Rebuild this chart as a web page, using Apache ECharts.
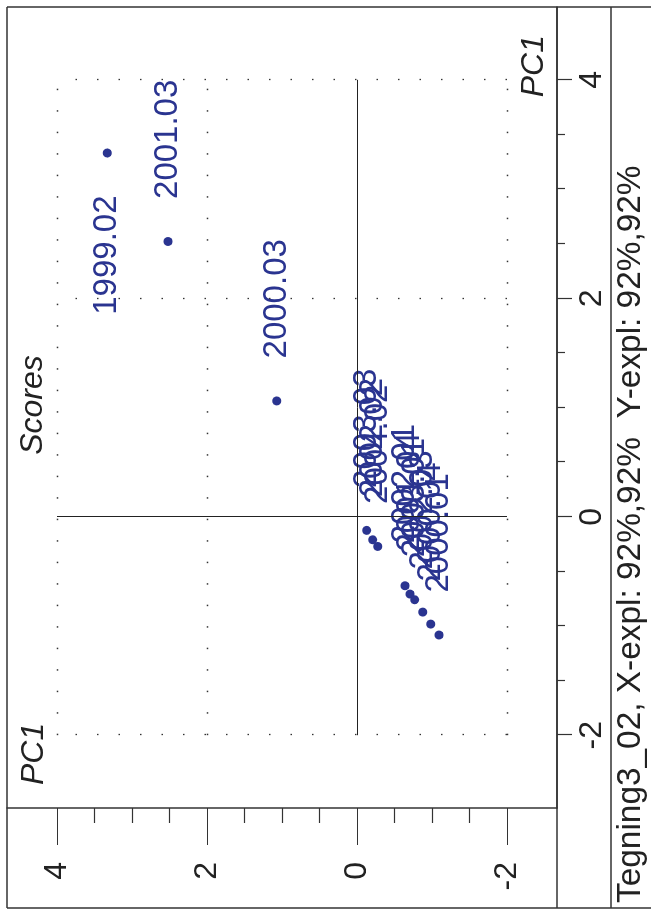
<!DOCTYPE html>
<html>
<head>
<meta charset="utf-8">
<script src="https://cdn.jsdelivr.net/npm/echarts@6/dist/echarts.min.js"></script>
<style>
html,body{margin:0;padding:0;background:#fff;overflow:hidden;width:651px;height:911px;}
#chart{position:absolute;left:0;top:0;width:911px;height:651px;transform-origin:0 0;transform:translate(0,911px) rotate(-90deg);}
</style>
</head>
<body>
<div id="chart"></div>
<script>
// ---- data ----
const pointNames = ['1999.02','2001.03','2000.03','2003.03','2002.02','2004.02','2002.01','2001.04','2003.01','2002.03','2000.04','2000.01'];
const xScores = [3.33, 2.52, 1.06, -0.125, -0.211, -0.272, -0.632, -0.708, -0.760, -0.873, -0.983, -1.083];
const yScores = [3.33, 2.52, 1.07, -0.129, -0.209, -0.276, -0.640, -0.707, -0.769, -0.876, -0.983, -1.093];
const majorTicks = [-2, 0, 2, 4];
const minorTicks = [-1.5, -1, -0.5, 0.5, 1, 1.5, 2.5, 3, 3.5];
const gridValues = [-2, 2, 4];
const axisMin = -8/3, axisMax = 14/3;
const titleText = 'Scores';
const xAxisName = 'PC1';
const yAxisName = 'PC1';
const footerText = 'Tegning3_02, X-expl: 92%,92%  Y-expl: 92%,92%';
const leftLabelNames = ['1999.02'];

// ---- styles ----
const FONT = '"Liberation Sans", Arial, Helvetica, sans-serif';
const BLUE = '#2a3490';
const LINE = '#333333';

const chart = echarts.init(document.getElementById('chart'), null, {width: 911, height: 651});

const scatterData = pointNames.map((n, i) => {
  const item = {name: n, value: [xScores[i], yScores[i]]};
  if (leftLabelNames.includes(n)) item.label = {position: 'left'};
  return item;
});

const lo = majorTicks[0], hi = majorTicks[majorTicks.length - 1];
const markData = [];
markData.push([{coord: [lo, 0], lineStyle: {type: 'solid', color: '#222', width: 1}}, {coord: [hi, 0]}]);
markData.push([{coord: [0, lo], lineStyle: {type: 'solid', color: '#222', width: 1}}, {coord: [0, hi]}]);
gridValues.forEach(v => {
  markData.push([{coord: [lo, v], lineStyle: {type: [1.5, 20], color: '#333', width: 1.3}}, {coord: [hi, v]}]);
  markData.push([{coord: [v, lo], lineStyle: {type: [1.5, 20], color: '#333', width: 1.3}}, {coord: [v, hi]}]);
});

const labelFmt = v => String(v);

const option = {
  animation: false,
  backgroundColor: '#fff',
  grid: {left: 103, top: 7, right: 7, bottom: 94, containLabel: false},
  xAxis: [
    {type: 'value', min: axisMin, max: axisMax, position: 'bottom',
     axisLine: {show: true, onZero: false, lineStyle: {color: LINE, width: 1.5}},
     axisTick: {show: true, length: 15, customValues: majorTicks, lineStyle: {color: LINE, width: 1.2}},
     axisLabel: {show: true, customValues: majorTicks, formatter: labelFmt, margin: 19, fontSize: 32, color: '#222', fontFamily: FONT},
     splitLine: {show: false}},
    {type: 'value', min: axisMin, max: axisMax, position: 'bottom',
     axisLine: {show: false, onZero: false},
     axisTick: {show: true, length: 8, customValues: minorTicks, lineStyle: {color: LINE, width: 1.2}},
     axisLabel: {show: false, customValues: minorTicks},
     splitLine: {show: false}}
  ],
  yAxis: [
    {type: 'value', min: axisMin, max: axisMax, position: 'left',
     axisLine: {show: true, onZero: false, lineStyle: {color: LINE, width: 1.5}},
     axisTick: {show: true, length: 37, customValues: majorTicks, lineStyle: {color: LINE, width: 1.2}},
     axisLabel: {show: true, customValues: majorTicks, formatter: labelFmt, margin: 54, fontSize: 32, color: '#222', fontFamily: FONT},
     splitLine: {show: false}},
    {type: 'value', min: axisMin, max: axisMax, position: 'left',
     axisLine: {show: false, onZero: false},
     axisTick: {show: true, length: 15, customValues: minorTicks, lineStyle: {color: LINE, width: 1.2}},
     axisLabel: {show: false, customValues: minorTicks},
     splitLine: {show: false}}
  ],
  series: [
    {type: 'scatter', xAxisIndex: 0, yAxisIndex: 0, data: [], silent: true,
     markLine: {silent: true, symbol: ['none', 'none'], label: {show: false}, animation: false, data: markData}},
    {type: 'scatter', xAxisIndex: 0, yAxisIndex: 0, symbolSize: 9,
     itemStyle: {color: BLUE, opacity: 1},
     label: {show: true, formatter: '{b}', position: 'right', distance: 38, fontSize: 33, color: BLUE, fontFamily: FONT},
     labelLayout: {hideOverlap: false},
     emphasis: {disabled: true},
     data: scatterData}
  ],
  graphic: [
    {type: 'line', shape: {x1: 3, y1: 7, x2: 3, y2: 660}, style: {stroke: LINE, lineWidth: 1.5}, silent: true},
    {type: 'line', shape: {x1: 904, y1: 7, x2: 904, y2: 660}, style: {stroke: LINE, lineWidth: 1.5}, silent: true},
    {type: 'line', shape: {x1: 3, y1: 7, x2: 904, y2: 7}, style: {stroke: LINE, lineWidth: 1.5}, silent: true},
    {type: 'line', shape: {x1: 3, y1: 557, x2: 904, y2: 557}, style: {stroke: LINE, lineWidth: 1.5}, silent: true},
    {type: 'line', shape: {x1: 3, y1: 611, x2: 904, y2: 611}, style: {stroke: LINE, lineWidth: 1.5}, silent: true},
    {type: 'text', x: 506, y: 33, silent: true,
     style: {text: titleText, font: 'italic 32px ' + FONT, fill: '#222', textAlign: 'center', textVerticalAlign: 'middle'}},
    {type: 'text', x: 876, y: 534, silent: true,
     style: {text: xAxisName, font: 'italic 32px ' + FONT, fill: '#222', textAlign: 'right', textVerticalAlign: 'middle'}},
    {type: 'text', x: 126, y: 34, silent: true,
     style: {text: yAxisName, font: 'italic 32px ' + FONT, fill: '#222', textAlign: 'left', textVerticalAlign: 'middle'}},
    {type: 'text', x: 8, y: 631, silent: true,
     style: {text: footerText, font: '33.4px ' + FONT, fill: '#222', textAlign: 'left', textVerticalAlign: 'middle'}}
  ]
};
chart.setOption(option);
</script>
</body>
</html>
